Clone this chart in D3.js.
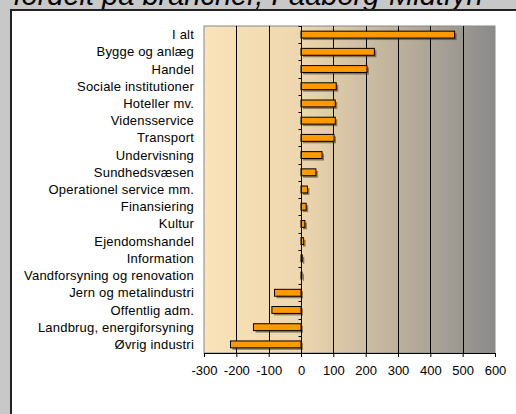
<!DOCTYPE html>
<html><head><meta charset="utf-8">
<script src="https://cdn.jsdelivr.net/npm/d3@7"></script>
<style>html,body{margin:0;padding:0;background:#c8c8c8;overflow:hidden}svg{display:block}</style>
</head><body>
<script>
const categories = ["I alt","Bygge og anlæg","Handel","Sociale institutioner","Hoteller mv.","Vidensservice","Transport","Undervisning","Sundhedsvæsen","Operationel service mm.","Finansiering","Kultur","Ejendomshandel","Information","Vandforsyning og renovation","Jern og metalindustri","Offentlig adm.","Landbrug, energiforsyning","Øvrig industri"];
const values = [475, 227, 204, 109, 106, 106, 102, 65, 46, 20, 16, 12, 8, 4, 3, -82, -90, -147, -218];
const xTicks = [-300,-200,-100,0,100,200,300,400,500,600];
const title = "fordelt på brancher, Faaborg-Midtfyn";

const W = 516, H = 414;
const svg = d3.select("body").append("svg").attr("width", W).attr("height", H);
const font = "Liberation Sans, Arial, sans-serif";

// title (partially cut off at top, as in the original)
svg.append("text").attr("x", 248).attr("y", 5).attr("text-anchor","middle")
  .attr("font-family", font).attr("font-style","italic").attr("font-size", 29)
  .attr("fill","#000").text(title);

// white chart area
svg.append("rect").attr("x", 11).attr("y", 10).attr("width", 520).attr("height", 420)
  .attr("fill","#fff").attr("stroke","#222").attr("stroke-width",2);

const pl = 204, pr = 495, pt = 26, pb = 353;
const x = d3.scaleLinear().domain([-300, 600]).range([pl, pr]);
const y = d3.scaleBand().domain(categories).range([pt, pb]).paddingInner(0.6).paddingOuter(0.3);

const defs = svg.append("defs");
const grad = defs.append("linearGradient").attr("id","bg").attr("x1","0").attr("x2","1").attr("y1","0").attr("y2","0");
grad.append("stop").attr("offset","0%").attr("stop-color","#fbe3b9");
grad.append("stop").attr("offset","33%").attr("stop-color","#eed7ae");
grad.append("stop").attr("offset","100%").attr("stop-color","#8b8b8b");

svg.append("rect").attr("x", pl).attr("y", pt).attr("width", pr-pl).attr("height", pb-pt)
  .attr("fill","url(#bg)").attr("stroke","#888").attr("stroke-width",1);

// grid lines
svg.append("g").selectAll("line").data(xTicks.filter(d => d !== -300 && d !== 600 && d !== 0)).join("line")
  .attr("x1", d => Math.round(x(d))+0.5).attr("x2", d => Math.round(x(d))+0.5)
  .attr("y1", pt).attr("y2", pb).attr("stroke","#000").attr("stroke-width",1);

// bars with shadow
const bars = svg.append("g");
bars.selectAll("rect.sh").data(values).join("rect").attr("class","sh")
  .attr("x", d => Math.min(x(0), x(d)) + 2)
  .attr("y", (d,i) => y(categories[i]) + 2)
  .attr("width", d => Math.abs(x(d) - x(0)))
  .attr("height", y.bandwidth())
  .attr("fill","rgba(60,50,40,0.55)");
bars.selectAll("rect.b").data(values).join("rect").attr("class","b")
  .attr("x", d => Math.min(x(0), x(d)))
  .attr("y", (d,i) => y(categories[i]))
  .attr("width", d => Math.abs(x(d) - x(0)))
  .attr("height", y.bandwidth())
  .attr("fill","#ff9900").attr("stroke","#000").attr("stroke-width",1);

// zero axis with category ticks
const yb = d3.scaleBand().domain(categories).range([pt, pb]);
const za = svg.append("g");
za.append("line").attr("x1", Math.round(x(0))+0.5).attr("x2", Math.round(x(0))+0.5)
  .attr("y1", pt).attr("y2", pb).attr("stroke","#000");
za.selectAll("line.t").data(categories.concat(["__end"])).join("line").attr("class","t")
  .attr("x1", Math.round(x(0))+0.5-3).attr("x2", Math.round(x(0))+0.5)
  .attr("y1", (d,i) => Math.round(pt + i*yb.step())+0.5).attr("y2", (d,i) => Math.round(pt + i*yb.step())+0.5)
  .attr("stroke","#000");

// category labels
svg.append("g").selectAll("text").data(categories).join("text")
  .attr("x", 194).attr("y", d => y(d) + y.bandwidth()/2)
  .attr("dy","0.35em").attr("text-anchor","end")
  .attr("font-family", font).attr("font-size", 13).attr("letter-spacing", "0.2px")
  .attr("fill","#000").text(d => d);

// x axis
const xa = svg.append("g").attr("transform", `translate(0,${pb})`)
  .call(d3.axisBottom(x).tickValues(xTicks).tickSize(4).tickPadding(9).tickFormat(d => String(d)));
xa.select(".domain").attr("stroke","#000");
xa.selectAll("text").attr("font-family", font).attr("font-size", 13).attr("fill","#000");
</script>
</body></html>
